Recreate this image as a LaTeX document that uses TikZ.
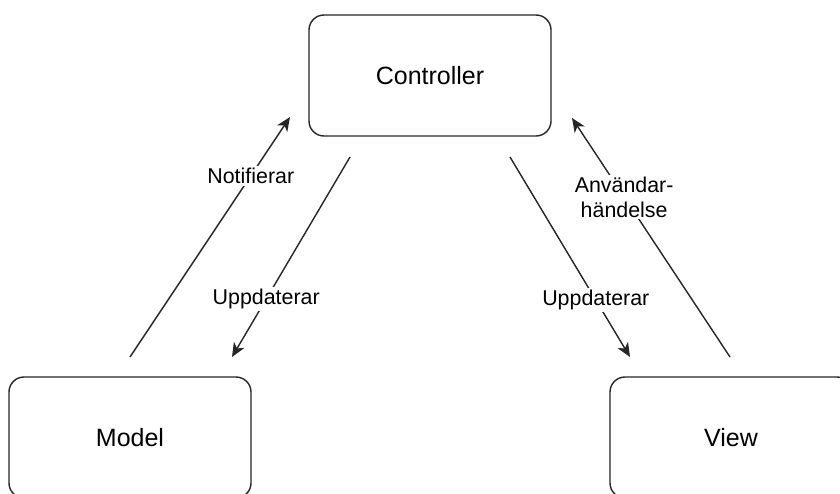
\documentclass[tikz,border=0pt]{standalone}
\usepackage{fontspec}
\setmainfont{Liberation Sans}
\usetikzlibrary{arrows.meta}
\begin{document}
\begin{tikzpicture}[x=1pt,y=-1pt,
  box/.style={draw=black!85, line width=1.4pt, rounded corners=15pt,
    minimum width=242pt, minimum height=121pt, inner sep=0pt,
    font=\fontsize{25}{30}\selectfont},
  flow/.style={draw=black!85, line width=1.4pt,
    -{Stealth[length=14pt,width=12pt,inset=4pt]}},
  lbl/.style={fill=white, inner sep=2pt, align=center,
    font=\fontsize{21.4}{25}\selectfont}]
  \useasboundingbox (0,0) rectangle (840,493);
  \clip (0,0) rectangle (840,493);
  \fill[white] (0,0) rectangle (840,493);

  % the three components
  \node[box] (ctrl) at (430,75.5) {Controller};
  \node[box] (model) at (130,437.5) {Model};
  \node[box] (view) at (731,437.5) {View};

  % free ends of the connectors
  \coordinate (notA) at (130,357);
  \coordinate (notB) at (290,117);
  \coordinate (upmA) at (350,157);
  \coordinate (upmB) at (232,357);
  \coordinate (upvA) at (510,157);
  \coordinate (upvB) at (630,357);
  \coordinate (evA) at (730,357);
  \coordinate (evB) at (572,118);

  % model side
  \draw[flow] (notA) -- node[lbl, pos=0.755] (lnot) {Notifierar} (notB);
  \draw[flow] (upmA) -- node[lbl, pos=0.71] (lupm) {Uppdaterar} (upmB);

  % view side
  \draw[flow] (upvA) -- node[lbl, pos=0.715] (lupv) {Uppdaterar} (upvB);
  \draw[flow] (evA) -- node[lbl, pos=0.67] (lev) {Användar-\\händelse} (evB);
\end{tikzpicture}
\end{document}
